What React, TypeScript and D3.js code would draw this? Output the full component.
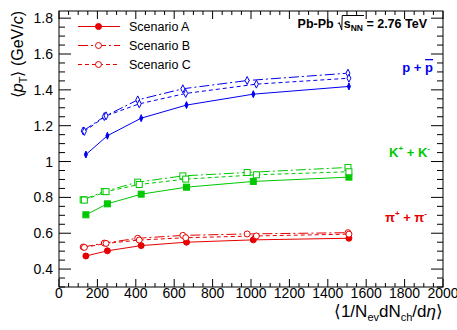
import { useLayoutEffect, useRef, useState } from 'react';
import * as d3 from 'd3';

// x positions (<dN/deta>) per scenario
const xA = [140, 252, 428, 664, 1012, 1510];
const xB = [126, 236, 410, 645, 980, 1505];
const xC = [132, 245, 418, 660, 1028, 1510];

// <pT> values (GeV/c)
const pionA = [0.473, 0.502, 0.531, 0.55, 0.563, 0.572];
const pionB = [0.523, 0.545, 0.572, 0.588, 0.596, 0.603];
const pionC = [0.521, 0.543, 0.562, 0.575, 0.585, 0.595];
const kaonA = [0.703, 0.764, 0.818, 0.857, 0.889, 0.913];
const kaonB = [0.787, 0.833, 0.885, 0.92, 0.939, 0.967];
const kaonC = [0.785, 0.832, 0.872, 0.902, 0.926, 0.943];
const protonA = [1.039, 1.144, 1.242, 1.315, 1.376, 1.419];
const protonB = [1.171, 1.251, 1.344, 1.406, 1.452, 1.493];
const protonC = [1.168, 1.255, 1.322, 1.38, 1.432, 1.465];

const scenarios = ['Scenario A', 'Scenario B', 'Scenario C'];
const xTicks = [0, 200, 400, 600, 800, 1000, 1200, 1400, 1600, 1800, 2000];
const yTicks = [0.4, 0.6, 0.8, 1, 1.2, 1.4, 1.6, 1.8];

const RED = '#e60000';
const GREEN = '#00c800';
const BLUE = '#0000f0';
const FONT = '"Liberation Sans", Arial, Helvetica, sans-serif';

const W = 457, H = 330;
const left = 59, right = 443, top = 11, bottom = 287;

const dashes = ['none', '10,3,2,3', '4,3'];

type Shape = 'circle' | 'square' | 'diamond';

function Marker({ cx, cy, shape, filled, color }: { cx: number; cy: number; shape: Shape; filled: boolean; color: string }) {
  const fill = filled ? color : 'white';
  if (shape === 'circle') return <circle cx={cx} cy={cy} r={3} fill={fill} stroke={color} strokeWidth={1} />;
  if (shape === 'square') return <rect x={cx - 3} y={cy - 3} width={6} height={6} fill={fill} stroke={color} strokeWidth={1} />;
  const p = filled ? 2.5 : 3;
  return <path d={`M${cx},${cy - p - 1}L${cx + p - 1},${cy}L${cx},${cy + p + 1}L${cx - p + 1},${cy}Z`} fill={fill} stroke={color} strokeWidth={1} />;
}

export default function App() {
  const sRef = useRef<SVGTSpanElement>(null);
  const nnRef = useRef<SVGTSpanElement>(null);
  const [root, setRoot] = useState<[number, number] | null>(null);

  // measure s_NN so the radical sign can be drawn around it
  useLayoutEffect(() => {
    if (sRef.current && nnRef.current) {
      const a = sRef.current.getStartPositionOfChar(0).x;
      const b = nnRef.current.getEndPositionOfChar(1).x;
      setRoot([a, b]);
    }
  }, []);

  const x = d3.scaleLinear().domain([0, 2000]).range([left, right]);
  const y = d3.scaleLinear().domain([0.3, 1.84]).range([bottom, top]);
  const line = d3.line<[number, number]>().x(d => x(d[0])).y(d => y(d[1]));

  const xs = [xA, xB, xC];
  const groups: { vals: number[][]; color: string; shape: Shape }[] = [
    { vals: [pionA, pionB, pionC], color: RED, shape: 'circle' },
    { vals: [kaonA, kaonB, kaonC], color: GREEN, shape: 'square' },
    { vals: [protonA, protonB, protonC], color: BLUE, shape: 'diamond' },
  ];

  const xMinor = d3.range(0, 2001, 50);
  const yMinor = d3.range(0.3, 1.841, 0.05).map(v => +v.toFixed(2));

  return (
    <svg width={W} height={H} style={{ position: 'absolute', left: 0, top: 0, background: 'white' }} fontFamily={FONT}>
      {/* frame */}
      <rect x={left} y={top} width={right - left} height={bottom - top} fill="none" stroke="#000" strokeWidth={1} />
      {/* x ticks, bottom and top */}
      {xMinor.map(v => {
        const major = v % 200 === 0;
        const len = major ? 8 : 4;
        return (
          <g key={'xt' + v} stroke="#000" strokeWidth={1}>
            <line x1={x(v)} x2={x(v)} y1={bottom} y2={bottom - len} />
            <line x1={x(v)} x2={x(v)} y1={top} y2={top + len} />
          </g>
        );
      })}
      {/* y ticks, left and right */}
      {yMinor.map(v => {
        const major = Math.abs((v * 100) % 20) < 1e-6;
        const len = major ? 12 : 6;
        return (
          <g key={'yt' + v} stroke="#000" strokeWidth={1}>
            <line x1={left} x2={left + len} y1={y(v)} y2={y(v)} />
            <line x1={right} x2={right - len} y1={y(v)} y2={y(v)} />
          </g>
        );
      })}
      {xTicks.map(v => (
        <text key={'xl' + v} x={x(v)} y={297.5} textAnchor="middle" fontSize={14} fill="#000">{v}</text>
      ))}
      {yTicks.map(v => (
        <text key={'yl' + v} x={53} y={y(v) + 5} textAnchor="end" fontSize={14} fill="#000">{v}</text>
      ))}

      {/* axis titles */}
      <text x={443} y={317} textAnchor="end" fontSize={17} fill="#000">
        ⟨1/N<tspan fontSize={11} dy={4}>ev</tspan><tspan dy={-4}>dN</tspan><tspan fontSize={11} dy={4}>ch</tspan><tspan dy={-4}>/d</tspan><tspan fontStyle="italic">η</tspan>⟩
      </text>
      <text transform="translate(23,11) rotate(-90)" textAnchor="end" fontSize={16} fill="#000">
        ⟨<tspan fontStyle="italic">p</tspan><tspan fontSize={11} dy={4}>T</tspan><tspan dy={-4}>⟩ (GeV/</tspan><tspan fontStyle="italic">c</tspan>)
      </text>

      {/* data */}
      {groups.map((g, gi) => (
        <g key={'g' + gi}>
          {g.vals.map((vals, si) => (
            <path key={'l' + si} d={line(xs[si].map((xv, i) => [xv, vals[i]] as [number, number])) ?? ''}
              fill="none" stroke={g.color} strokeWidth={1} strokeDasharray={dashes[si]} />
          ))}
          {g.vals.map((vals, si) => vals.map((v, i) => (
            <Marker key={`m${si}-${i}`} cx={x(xs[si][i])} cy={y(v)} shape={g.shape} filled={si === 0} color={g.color} />
          )))}
        </g>
      ))}

      {/* legend */}
      {scenarios.map((s, i) => {
        const ly = 26.5 + i * 19;
        return (
          <g key={s}>
            <line x1={78} x2={120} y1={ly} y2={ly} stroke={RED} strokeWidth={1} strokeDasharray={dashes[i]} />
            <Marker cx={98.5} cy={ly} shape="circle" filled={i === 0} color={RED} />
            <text x={129} y={ly + 4.5} fontSize={12.5} fill="#000">{s}</text>
          </g>
        );
      })}

      {/* annotations */}
      <text x={427} y={28} textAnchor="end" fontSize={12.5} fontWeight="bold" fill="#000">
        Pb-Pb<tspan dx={10} ref={sRef}>s</tspan><tspan ref={nnRef} fontSize={8.5} dy={3}>NN</tspan><tspan dy={-3}> = 2.76 TeV</tspan>
      </text>
      {root && (
        <path d={`M${root[0] - 6},${24}L${root[0] - 4.5},${22.5}L${root[0] - 2},${30}L${root[0] - 1.5},${15.5}L${root[1] + 1},${15.5}`}
          fill="none" stroke="#000" strokeWidth={1} />
      )}
      <text x={433} y={72} textAnchor="end" fontSize={13} fontWeight="bold" fill={BLUE}>
        p + <tspan style={{ textDecoration: 'overline' }}>p</tspan>
      </text>
      <text x={430} y={157} textAnchor="end" fontSize={13} fontWeight="bold" fill={GREEN}>
        K<tspan fontSize={8} dy={-6}>+</tspan><tspan dy={6}> + K</tspan><tspan fontSize={8} dy={-6}>-</tspan>
      </text>
      <text x={427} y={222} textAnchor="end" fontSize={13} fontWeight="bold" fill={RED}>
        π<tspan fontSize={8} dy={-6}>+</tspan><tspan dy={6}> + π</tspan><tspan fontSize={8} dy={-6}>-</tspan>
      </text>
    </svg>
  );
}
